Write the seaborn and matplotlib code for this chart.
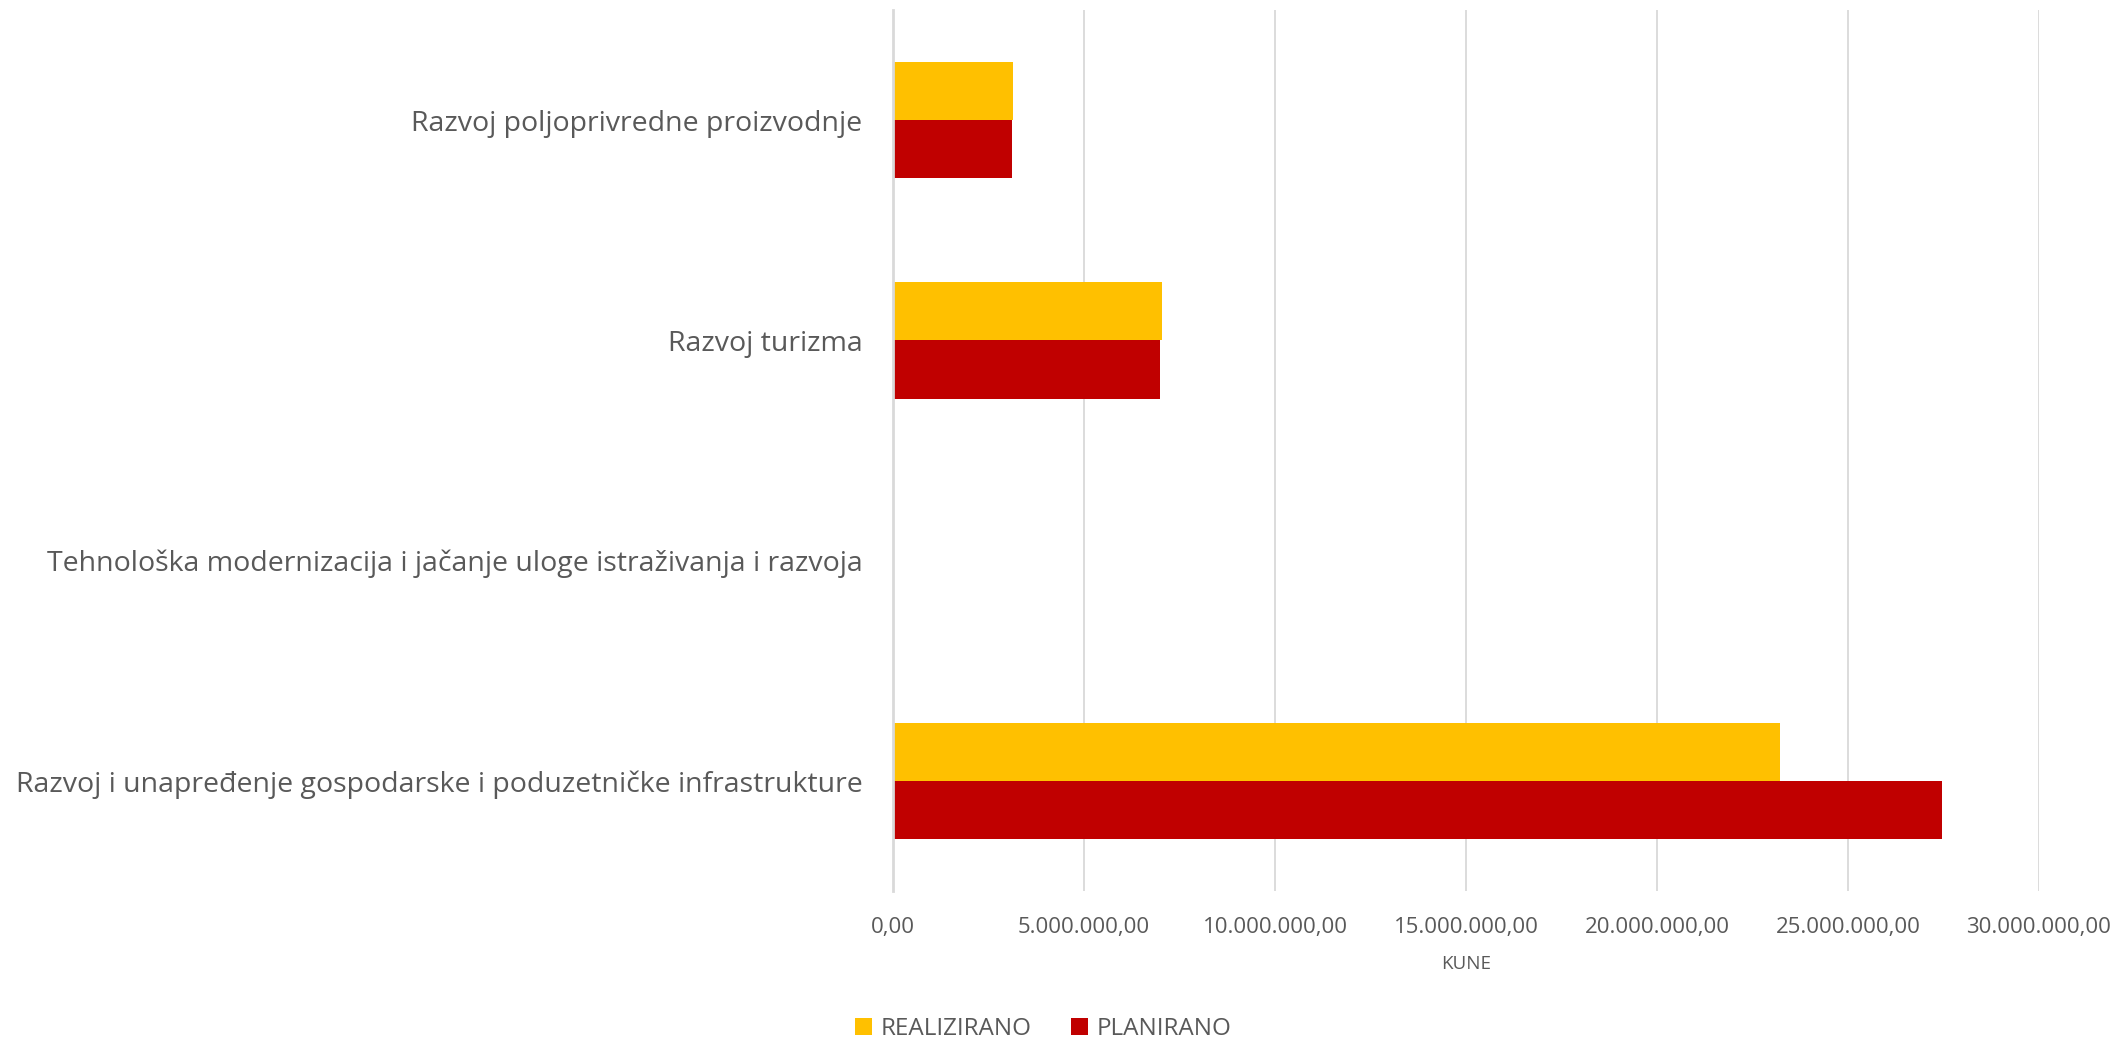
import matplotlib
matplotlib.use('Agg')
import matplotlib.pyplot as plt
from matplotlib.ticker import FuncFormatter, MultipleLocator
import pandas as pd
import seaborn as sns

# Data (kune)
MJERE = [
    "Razvoj poljoprivredne proizvodnje",
    "Razvoj turizma",
    "Tehnološka modernizacija i jačanje uloge istraživanja i razvoja",
    "Razvoj i unapređenje gospodarske i poduzetničke infrastrukture",
]
REALIZIRANO = [3140000, 7040000, 0, 23210000]
PLANIRANO = [3120000, 7000000, 0, 27470000]
SERIJE = ["REALIZIRANO", "PLANIRANO"]
BOJE = ["#FFC000", "#C00000"]

TEXT_COLOR = "#595959"
GRID_COLOR = "#D9D9D9"

sns.set_theme(style="white")
plt.rcParams['font.family'] = ['Open Sans', 'DejaVu Sans']

df = pd.DataFrame({
    "mjera": MJERE * 2,
    "iznos": REALIZIRANO + PLANIRANO,
    "serija": [SERIJE[0]] * len(MJERE) + [SERIJE[1]] * len(MJERE),
})


def hr_format(x, pos):
    """Croatian number format: 5.000.000,00"""
    s = f"{x:,.2f}"
    return s.replace(",", "X").replace(".", ",").replace("X", ".")


fig = plt.figure(figsize=(21.16, 10.45), dpi=100)
ax = fig.add_axes([893 / 2116, 1 - 891 / 1045, (2039 - 893) / 2116, (891 - 10) / 1045])

sns.barplot(data=df, y="mjera", x="iznos", hue="serija", order=MJERE,
            hue_order=SERIJE, palette=BOJE, orient="h", width=0.53,
            saturation=1, errorbar=None, linewidth=0, ax=ax)

ax.set_xlim(0, 30000000)
ax.xaxis.set_major_locator(MultipleLocator(5000000))
ax.xaxis.set_major_formatter(FuncFormatter(hr_format))
ax.grid(axis="x", color=GRID_COLOR, linewidth=1.3)
ax.set_axisbelow(True)

for side in ["top", "right", "bottom"]:
    ax.spines[side].set_visible(False)
ax.spines["left"].set_color(GRID_COLOR)
ax.spines["left"].set_linewidth(2)

ax.tick_params(axis="y", length=0, pad=22, labelsize=20.5, labelcolor=TEXT_COLOR)
ax.tick_params(axis="x", length=0, pad=19, labelsize=16, labelcolor=TEXT_COLOR)

ax.set_xlabel("KUNE", fontsize=13.5, color=TEXT_COLOR, labelpad=12)
ax.set_ylabel("")

# y-axis title sits mostly outside the canvas in the reference
fig.text(-0.003, 0.56, "PRIORITET", rotation=90, ha="center", va="center",
         fontsize=13, color=TEXT_COLOR)

handles, labels = ax.get_legend_handles_labels()
ax.legend(handles, labels, loc="center", bbox_to_anchor=(0.493, 0.015),
          bbox_transform=fig.transFigure, ncol=2, frameon=False,
          fontsize=17.5, labelcolor=TEXT_COLOR, handlelength=0.7,
          handleheight=0.7, handletextpad=0.35, columnspacing=1.6)

fig.savefig("out.png", dpi=100, facecolor="white")
plt.close(fig)
